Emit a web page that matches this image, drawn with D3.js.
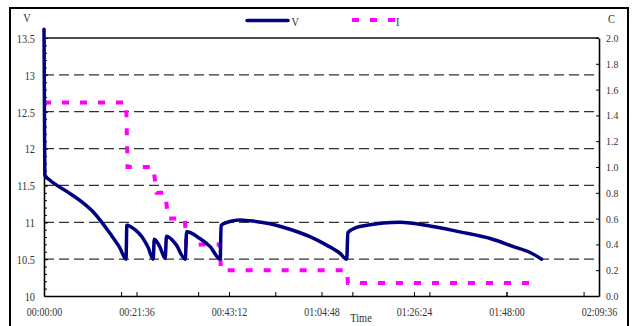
<!DOCTYPE html>
<html>
<head>
<meta charset="utf-8">
<script src="https://cdn.jsdelivr.net/npm/d3@7"></script>
<style>
  body { margin: 0; background: #fff; }
  svg { display: block; }
  text { font-family: "Liberation Serif", "Times New Roman", serif; fill: #333; }
</style>
</head>
<body>
<svg id="chart" width="633" height="326"></svg>
<script>
// Battery discharge log: elapsed time in minutes, voltage (V) and current (C-rate)
const voltMinutes = [0, 0.1, 0.2, 1.4, 5.3, 9.2, 11.5, 13.1, 15.4, 17.75, 19.15,
  19.35, 21.25, 22.9, 24.3, 25.5,
  25.75, 27.1, 28.3,
  28.6, 30.8, 33.0,
  33.3, 36.4, 38.8, 41.15,
  41.35, 43.4, 45.8, 48.1, 52.8, 57.4, 62.1, 66.0, 69.1, 70.7,
  70.95, 73.0, 75.4, 79.2, 83.1, 90.1, 97.1, 104.2, 109.6, 113.5, 116.2];
const voltValues = [13.62, 12.6, 11.64, 11.57, 11.42, 11.26, 11.14, 11.03, 10.85, 10.65, 10.50,
  10.96, 10.90, 10.80, 10.66, 10.50,
  10.77, 10.66, 10.51,
  10.81, 10.70, 10.50,
  10.87, 10.78, 10.67, 10.50,
  10.96, 11.01, 11.03, 11.02, 10.98, 10.905, 10.805, 10.69, 10.58, 10.50,
  10.86, 10.93, 10.96, 10.99, 11.00, 10.95, 10.87, 10.78, 10.67, 10.59, 10.50];

const currMinutes = [0, 19.2, 19.5, 25.5, 26.3, 28.3, 29.0, 32.9, 33.2, 41.1, 41.3, 70.7, 71.0, 114.0];
const currValues  = [1.5, 1.5, 1.0, 1.0, 0.8, 0.8, 0.6, 0.6, 0.4, 0.4, 0.2, 0.2, 0.1, 0.1];

const timeTicks = [0, 21.6, 43.2, 64.8, 86.4, 108, 129.6];
const timeTickLabels = ["00:00:00", "00:21:36", "00:43:12", "01:04:48", "01:26:24", "01:48:00", "02:09:36"];
const subTimeTicks = [18, 36, 54, 72, 90, 108, 126];

const voltTicks = [10, 10.5, 11, 11.5, 12, 12.5, 13, 13.5];
const voltTickLabels = ["10", "10.5", "11", "11.5", "12", "12.5", "13", "13.5"];
const voltMinorTicks = d3.range(10, 13.55, 0.1);

const currTicks = [0, 0.2, 0.4, 0.6, 0.8, 1.0, 1.2, 1.4, 1.6, 1.8, 2.0];
const currTickLabels = ["0.0", "0.2", "0.4", "0.6", "0.8", "1.0", "1.2", "1.4", "1.6", "1.8", "2.0"];

const seriesNames = ["V", "I"];
const seriesColors = ["#000080", "#ff00ff"];

const svg = d3.select("#chart");
const plotLeft = 44, plotRight = 599, plotTop = 38, plotBottom = 296;

const x = d3.scaleLinear().domain([0, 129.6]).range([plotLeft, plotRight]);
const yV = d3.scaleLinear().domain([10, 13.5]).range([plotBottom, plotTop]);
const yI = d3.scaleLinear().domain([0, 2]).range([plotBottom, plotTop]);

// outer frame
svg.append("rect")
  .attr("x", 10).attr("y", 8).attr("width", 618).attr("height", 330)
  .attr("fill", "#fff").attr("stroke", "#000").attr("stroke-width", 2);

// horizontal dashed gridlines at the voltage ticks
svg.append("g").selectAll("line")
  .data(voltTicks.slice(1, -1))
  .join("line")
  .attr("x1", plotLeft).attr("x2", plotRight)
  .attr("y1", d => yV(d)).attr("y2", d => yV(d))
  .attr("stroke", "#333").attr("stroke-width", 1.2)
  .attr("stroke-dasharray", "10,5");

// solid top edge of the plot area
svg.append("line")
  .attr("x1", plotLeft).attr("x2", plotRight)
  .attr("y1", yV(13.5)).attr("y2", yV(13.5))
  .attr("stroke", "#111").attr("stroke-width", 1.3);

function condense(sel, sx, xOff) {
  sel.selectAll("text")
    .attr("transform", `scale(${sx},1)`)
    .attr("x", xOff / sx);
}

// left voltage axis
const axL = svg.append("g").attr("transform", `translate(${plotLeft},0)`)
  .call(d3.axisLeft(yV).tickValues(voltTicks)
    .tickFormat((d, i) => voltTickLabels[i]).tickSizeInner(-4).tickSizeOuter(0).tickPadding(9));
axL.selectAll("text").style("font-size", "13.5px");
condense(axL, 0.77, -9);
svg.append("g").attr("transform", `translate(${plotLeft},0)`)
  .call(d3.axisLeft(yV).tickValues(voltMinorTicks).tickFormat("").tickSizeInner(-3).tickSizeOuter(0))
  .call(g => g.select(".domain").remove());

// right current axis
const axR = svg.append("g").attr("transform", `translate(${plotRight},0)`)
  .call(d3.axisRight(yI).tickValues(currTicks)
    .tickFormat((d, i) => currTickLabels[i]).tickSizeInner(-3).tickSizeOuter(0).tickPadding(7));
axR.selectAll("text").style("font-size", "11px");
condense(axR, 0.9, 7);

// bottom time axis
const axB = svg.append("g").attr("transform", `translate(0,${plotBottom})`)
  .call(d3.axisBottom(x).tickValues(timeTicks)
    .tickFormat((d, i) => timeTickLabels[i]).tickSizeInner(-4).tickSizeOuter(0));
axB.selectAll("text").style("font-size", "13px").attr("y", 20).attr("dy", 0);
condense(axB, 0.77, 0);
svg.append("g").attr("transform", `translate(0,${plotBottom})`)
  .call(d3.axisBottom(x).tickValues(subTimeTicks).tickFormat("").tickSizeInner(-4).tickSizeOuter(0))
  .call(g => g.select(".domain").remove());

svg.selectAll(".domain").attr("stroke", "#000").attr("stroke-width", 1.6);
svg.selectAll(".tick line").attr("stroke", "#000").attr("stroke-width", 1);

// series lines
const voltData = voltMinutes.map((m, i) => [m, voltValues[i]]);
const currData = currMinutes.map((m, i) => [m, currValues[i]]);

svg.append("path")
  .datum(currData)
  .attr("fill", "none")
  .attr("stroke", seriesColors[1]).attr("stroke-width", 4)
  .attr("stroke-dasharray", "7,11")
  .attr("d", d3.line().x(d => x(d[0])).y(d => yI(d[1])));

svg.append("path")
  .datum(voltData)
  .attr("fill", "none")
  .attr("stroke", seriesColors[0]).attr("stroke-width", 3.5)
  .attr("stroke-linejoin", "round").attr("stroke-linecap", "round")
  .attr("d", d3.line().curve(d3.curveMonotoneX).x(d => x(d[0])).y(d => yV(d[1])));

// axis titles
function label(txt, px, py, size, sx, anchor) {
  svg.append("text")
    .attr("transform", `translate(${px},${py}) scale(${sx},1)`)
    .attr("text-anchor", anchor || "start")
    .style("font-size", size + "px")
    .text(txt);
}
label("V", 27, 22, 11.5, 0.9, "middle");
label("C", 608, 23, 11.5, 0.9, "start");
label("Time", 361, 322, 11.5, 0.9, "middle");

// legend
const legend = svg.append("g");
legend.append("line").attr("x1", 247).attr("x2", 288).attr("y1", 20.5).attr("y2", 20.5)
  .attr("stroke", seriesColors[0]).attr("stroke-width", 3.5).attr("stroke-linecap", "round");
legend.append("line").attr("x1", 352).attr("x2", 395).attr("y1", 20).attr("y2", 20)
  .attr("stroke", seriesColors[1]).attr("stroke-width", 4).attr("stroke-dasharray", "7,11");
label(seriesNames[0], 291.5, 26, 11.5, 0.9, "start");
label(seriesNames[1], 396, 26, 11.5, 0.9, "start");
</script>
</body>
</html>
